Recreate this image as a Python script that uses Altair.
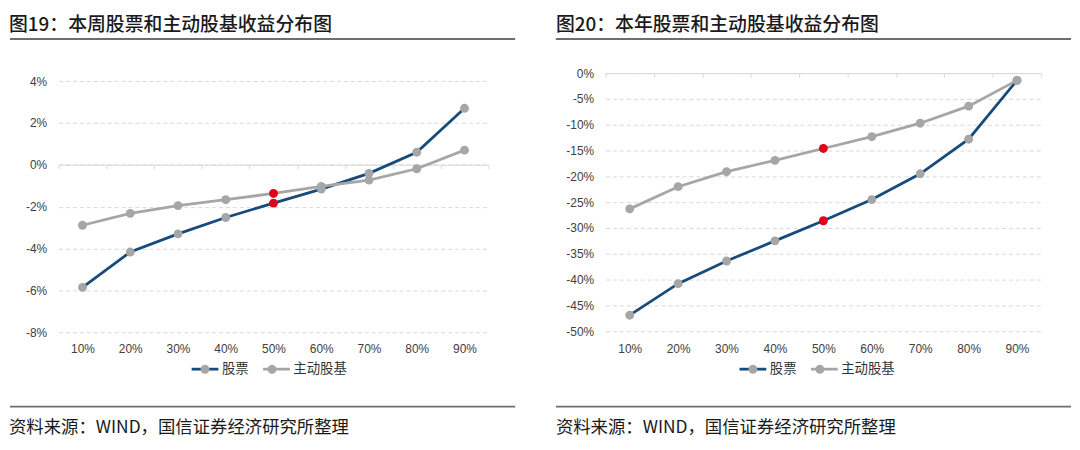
import altair as alt
import pandas as pd

# ---------------- data ----------------
cats = ['10%', '20%', '30%', '40%', '50%', '60%', '70%', '80%', '90%']
series = ['股票', '主动股基']
week_stock = [-5.86, -4.17, -3.30, -2.52, -1.83, -1.16, -0.41, 0.60, 2.70]
week_fund = [-2.89, -2.32, -1.95, -1.67, -1.37, -1.03, -0.73, -0.19, 0.70]
year_stock = [-46.9, -40.8, -36.4, -32.5, -28.6, -24.5, -19.5, -12.8, -1.4]
year_fund = [-26.3, -22.0, -19.1, -16.9, -14.6, -12.3, -9.7, -6.4, -1.4]
highlight_cat = '50%'
titles = ['图19：本周股票和主动股基收益分布图', '图20：本年股票和主动股基收益分布图']
source_text = '资料来源：WIND，国信证券经济研究所整理'
week_ticks = [-8, -6, -4, -2, 0, 2, 4]
year_ticks = [-50, -45, -40, -35, -30, -25, -20, -15, -10, -5, 0]

# ---------------- styles ----------------
BLUE = '#174b7c'
GRAY = '#a6a6a6'
RED = '#e3001b'
GRID = '#d9d9d9'
CJK = 'Noto Sans CJK SC'
LATIN = 'Liberation Sans'
TICK = 4


def panel(stock, fund, title, ticks, ymin, ymax, w, h, top, geo):
    n = len(cats)
    df = pd.DataFrame({
        'cat': cats * 2,
        'series': [series[0]] * n + [series[1]] * n,
        'value': stock + fund,
    })
    df['key'] = df['series']
    df['hl'] = ['hi' if c == highlight_cat else 'lo' for c in df['cat']]

    # pixel position of the 0 line inside the panel (the x axis sits on it)
    zero_px = h - (0 - ymin) / (ymax - ymin) * (h - top)
    axis_shift = h - zero_px

    xscale = alt.Scale(type='band', domain=cats, paddingInner=0, paddingOuter=0)
    xaxis = alt.Axis(title=None, domain=True, domainColor=GRID, domainWidth=1,
                     ticks=True, tickBand='extent', tickColor=GRID, tickSize=TICK, tickWidth=1,
                     offset=-axis_shift, labelAngle=0,
                     labelPadding=axis_shift - TICK + geo['xlabpad'],
                     labelFont=LATIN, labelFontSize=12, labelColor='#404040', grid=False)
    yscale = alt.Scale(domain=[ymin, ymax], nice=False, zero=False, range=[h, top])
    yaxis = alt.Axis(title=None, values=ticks, domain=False, ticks=False,
                     labelPadding=geo['ylabpad'], labelFont=LATIN, labelFontSize=12,
                     labelColor='#404040', grid=True, gridColor=GRID, gridDash=[4, 3],
                     gridWidth=1, labelExpr="datum.value + '%'")

    X = alt.X('cat:N', sort=cats, scale=xscale, axis=xaxis)
    Y = alt.Y('value:Q', scale=yscale, axis=yaxis)

    base = alt.Chart(df)

    lines = base.mark_line(strokeWidth=2.8).encode(
        x=X, y=Y,
        stroke=alt.Stroke('series:N', scale=alt.Scale(domain=series, range=[BLUE, GRAY]),
                          legend=alt.Legend(orient='none', legendX=geo['lx'], legendY=geo['ly'],
                                            direction='horizontal', title=None,
                                            symbolType='stroke', symbolSize=729,
                                            symbolStrokeWidth=2.8, labelFont=CJK,
                                            labelFontSize=13.5, labelColor='#333333',
                                            labelOffset=2, columnPadding=8, padding=0)),
    )

    points = base.mark_point(filled=True, size=80, opacity=1, strokeWidth=0).encode(
        x=X, y=Y,
        fill=alt.Fill('hl:N', scale=alt.Scale(domain=['lo', 'hi'], range=[GRAY, RED]), legend=None),
        shape=alt.Shape('key:N', sort=series, scale=alt.Scale(range=['circle', 'circle']),
                        legend=alt.Legend(orient='none', legendX=geo['lx'] + 8.25,
                                          legendY=geo['ly'] + 8.25,
                                          direction='horizontal', title=None,
                                          symbolType='circle', symbolSize=80,
                                          symbolFillColor=GRAY, symbolStrokeColor=GRAY,
                                          symbolStrokeWidth=0, labelFont=CJK,
                                          labelFontSize=13.5, labelExpr="''",
                                          labelOffset=2, columnPadding=8 + 16.5 + 27,
                                          padding=0)),
    )

    tdf = pd.DataFrame({'t': [title]})
    title_mark = alt.Chart(tdf).mark_text(align='left', baseline='middle', font=CJK,
                                          fontSize=19, fontWeight=500, color='#1a1a1a').encode(
        x=alt.value(geo['tx']), y=alt.value(geo['ty']), text='t:N')
    underline = alt.Chart(tdf).mark_rule(color='#6e6e6e', strokeWidth=2).encode(
        x=alt.value(geo['rx0']), x2=alt.value(geo['rx1']), y=alt.value(geo['uy']))
    footline = alt.Chart(tdf).mark_rule(color='#6e6e6e', strokeWidth=2).encode(
        x=alt.value(geo['rx0']), x2=alt.value(geo['rx1']), y=alt.value(geo['fy']))
    sdf = pd.DataFrame({'s': [source_text]})
    source_mark = alt.Chart(sdf).mark_text(align='left', baseline='middle', font=CJK,
                                           fontSize=17.5, color='#1a1a1a').encode(
        x=alt.value(geo['tx']), y=alt.value(geo['sy']), text='s:N')

    return alt.layer(lines, points, title_mark, underline, footline, source_mark).properties(
        width=w, height=h)


geo_left = dict(xlabpad=11, ylabpad=12, lx=132.5, ly=283, tx=-50, ty=-48,
                rx0=-49, rx1=460, uy=-34.5, fy=336, sy=358)
geo_right = dict(xlabpad=12, ylabpad=12, lx=133.5, ly=283, tx=-50, ty=-48,
                 rx0=-50, rx1=469, uy=-34.5, fy=336, sy=358)

left = panel(week_stock, week_fund, titles[0], week_ticks, -8, 4, 433, 261, 8, geo_left)
right = panel(year_stock, year_fund, titles[1], year_ticks, -50, 0, 439, 260, 0, geo_right)

chart = alt.hconcat(left, right, spacing=39).resolve_scale(
    stroke='independent', shape='independent', fill='independent'
).properties(
    padding={'left': 1, 'top': 7, 'right': 0, 'bottom': 0},
    background='white'
).configure_view(strokeWidth=0, stroke='transparent')

chart.save('out.html', embed_options={'renderer': 'svg', 'actions': False})
